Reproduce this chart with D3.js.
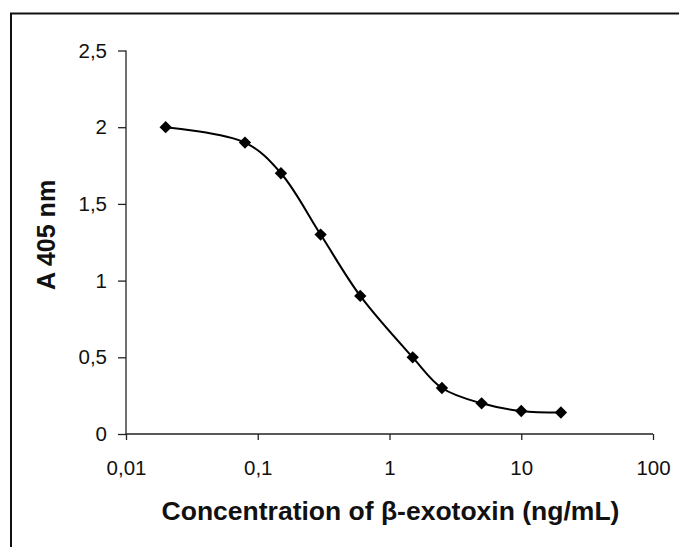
<!DOCTYPE html>
<html><head><meta charset="utf-8">
<script src="https://cdn.jsdelivr.net/npm/d3@7"></script>
<style>html,body{margin:0;padding:0;background:#fff;}svg{display:block;font-family:"Liberation Sans",Arial,sans-serif;}</style>
</head><body><svg id="c" width="679" height="547"></svg>
<script>
const concentrations = [0.02, 0.08, 0.15, 0.3, 0.6, 1.5, 2.5, 5, 10, 20];
const absorbance = [2.0, 1.9, 1.7, 1.3, 0.9, 0.5, 0.3, 0.2, 0.15, 0.14];
const xTicks = [0.01, 0.1, 1, 10, 100];
const yTicks = [0, 0.5, 1, 1.5, 2, 2.5];
const xTitle = "Concentration of \u03b2-exotoxin (ng/mL)";
const yTitle = "A 405 nm";

const locale = d3.formatLocale({decimal: ",", thousands: ".", grouping: [3], currency: ["", ""]});
const fmt = d => locale.format("~g")(d);

const svg = d3.select("#c");
const x = d3.scaleLog().domain([0.01, 100]).range([126, 653]);
const y = d3.scaleLinear().domain([0, 2.5]).range([434, 50.5]);

// frame
svg.append("path").attr("d", "M11,547V13.5H679").attr("fill", "none").attr("stroke", "#111").attr("stroke-width", 2);

const yAxis = svg.append("g").attr("transform", "translate(126,0)")
  .call(d3.axisLeft(y).tickValues(yTicks).tickFormat(fmt).tickSize(8).tickPadding(11));
const xAxis = svg.append("g").attr("transform", "translate(0,434)")
  .call(d3.axisBottom(x).tickValues(xTicks).tickFormat(fmt).tickSize(6).tickPadding(20));
[yAxis, xAxis].forEach(g => {
  g.selectAll("path,line").attr("stroke", "#222").attr("stroke-width", 1.3);
  g.selectAll("text").attr("font-size", 20.5).attr("fill", "#111").attr("font-family", "Liberation Sans, Arial, sans-serif");
});
yAxis.select(".domain").attr("d", "M0," + y(2.5) + "V" + y(0));
xAxis.select(".domain").attr("d", "M" + x(0.01) + ",0H" + x(100));

const pts = concentrations.map((c, i) => [x(c), y(absorbance[i])]);
svg.append("path").attr("d", d3.line().curve(d3.curveCatmullRom.alpha(0.5))(pts))
  .attr("fill", "none").attr("stroke", "#000").attr("stroke-width", 2);

svg.append("g").selectAll("path").data(pts).join("path")
  .attr("transform", d => `translate(${d[0]},${d[1]}) rotate(45)`)
  .attr("d", d3.symbol().type(d3.symbolSquare).size(76))
  .attr("fill", "#000");

svg.append("text").attr("x", 390.5).attr("y", 520).attr("text-anchor", "middle")
  .attr("font-size", 26.5).attr("font-weight", "bold").attr("fill", "#111").text(xTitle);
svg.append("text").attr("transform", "translate(55,235) rotate(-90)").attr("text-anchor", "middle")
  .attr("font-size", 25).attr("font-weight", "bold").attr("fill", "#111").text(yTitle);
</script></body></html>
